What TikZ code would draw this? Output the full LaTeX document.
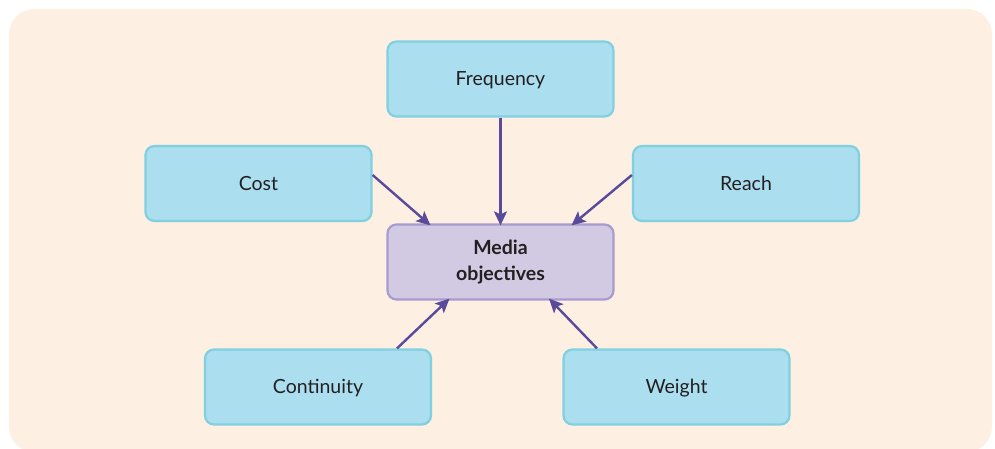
\documentclass[tikz,border=0pt]{standalone}
\usepackage{fontspec}
\setmainfont{Lato}
\usetikzlibrary{arrows.meta}
\definecolor{bgc}{HTML}{FDF0E2}
\definecolor{boxfill}{HTML}{ABDEEF}
\definecolor{boxline}{HTML}{80D0E0}
\definecolor{midfill}{HTML}{D2C9E3}
\definecolor{midline}{HTML}{A79BD0}
\definecolor{arrc}{HTML}{5A4A9C}
\definecolor{txt}{HTML}{231F20}
\tikzset{
  factor/.style={draw=boxline, fill=boxfill, line width=2.2bp, rounded corners=9bp,
    minimum width=226bp, minimum height=75bp, inner sep=0pt, text=txt,
    text height=17bp, text depth=3bp,
    font=\fontsize{19.5bp}{23bp}\selectfont},
  goal/.style={draw=midline, fill=midfill, line width=2.2bp, rounded corners=9bp,
    minimum width=226bp, minimum height=75bp, inner sep=0pt, text=txt, align=center,
    font=\fontsize{19.5bp}{26bp}\selectfont\bfseries},
  link/.style={draw=arrc, line width=2.4bp, -{Stealth[length=14bp,width=13bp,inset=3bp]}}
}
\begin{document}
\begin{tikzpicture}[x=1bp,y=-1bp]
\useasboundingbox (0,0) rectangle (995,449);
\fill[bgc, rounded corners=25bp] (9,9) rectangle (992,452);
\node[factor] (freq) at (500.5,79) {Frequency};
\node[factor] (cost) at (258.5,183.5) {Cost};
\node[factor] (reach) at (746,183.5) {Reach};
\node[goal] (media) at (500.5,262) {Media\\objectives};
\node[factor] (cont) at (318,387) {Continuity};
\node[factor] (weight) at (676.5,387) {Weight};
\draw[link] (freq.south) -- ([yshift=-2bp]media.north);
\draw[link] ([yshift=8.5bp]cost.east) -- ([xshift=-70bp,yshift=-2bp]media.north);
\draw[link] ([yshift=8.5bp]reach.west) -- ([xshift=71bp,yshift=-2bp]media.north);
\draw[link] ([xshift=79bp]cont.north) -- ([xshift=-51bp,yshift=2bp]media.south);
\draw[link] ([xshift=-79.5bp]weight.north) -- ([xshift=48.5bp,yshift=2bp]media.south);
\end{tikzpicture}
\end{document}
